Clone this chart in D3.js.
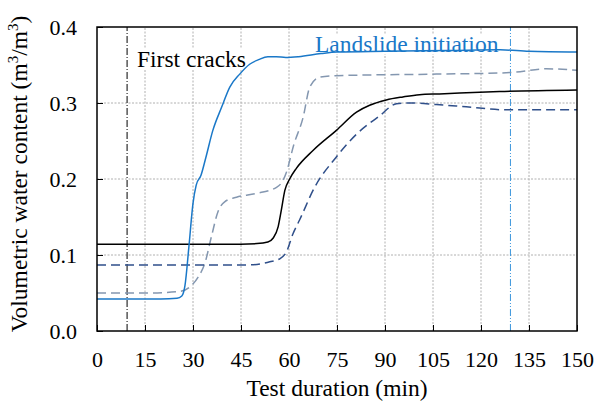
<!DOCTYPE html>
<html>
<head>
<meta charset="utf-8">
<script src="https://cdn.jsdelivr.net/npm/d3@7"></script>
<style>
  body { margin: 0; background: #fff; }
  text { font-family: "Liberation Serif", "Times New Roman", serif; }
</style>
</head>
<body>
<div id="chart"></div>
<script>
// readings taken off the figure: [minutes, m3/m3]
var blueSolid = [[0,0.042],[10,0.042],[20,0.042],[25,0.043],[26.5,0.046],[27.5,0.06],[28.7,0.11],[30,0.168],[31,0.192],[32.5,0.205],[34,0.228],[36.2,0.264],[38.9,0.294],[41.5,0.321],[44.6,0.338],[47.7,0.351],[50.5,0.357],[53.4,0.361],[56,0.361],[59,0.360],[63,0.361],[70,0.365],[75,0.367],[90,0.368],[110,0.369],[126,0.370],[135,0.368],[150,0.367]];
var blackSolid = [[0,0.114],[20,0.114],[40,0.114],[50,0.115],[53.4,0.117],[55,0.122],[56.6,0.137],[57.6,0.159],[58.7,0.185],[60.2,0.2],[62.3,0.214],[67.5,0.2375],[74.8,0.264],[81.1,0.288],[85.2,0.297],[90.4,0.304],[95.6,0.308],[100.8,0.311],[107,0.312],[125.8,0.315],[150,0.317]];
var grayDashed = [[0,0.050],[15,0.050],[25.8,0.052],[29,0.058],[31.6,0.071],[33.7,0.089],[35.75,0.124],[37.8,0.157],[39.9,0.170],[43.6,0.176],[49.8,0.181],[56.1,0.189],[58.1,0.198],[59.2,0.209],[61.5,0.245],[64.4,0.281],[66.5,0.321],[69.6,0.334],[74.8,0.336],[106,0.338],[129,0.340],[140.4,0.345],[150,0.343]];
var navyDashed = [[0,0.087],[40,0.087],[47.7,0.087],[54,0.091],[57.1,0.095],[59.2,0.104],[61.25,0.128],[63.3,0.146],[68,0.189],[74.8,0.229],[81.1,0.259],[88.3,0.283],[93.6,0.299],[97.7,0.300],[106,0.298],[115.4,0.295],[128,0.291],[150,0.291]];

var xTicks = [0,15,30,45,60,75,90,105,120,135,150];
var yTicks = [0,0.1,0.2,0.3,0.4];
var markers = [
  {t: 9.4, label: 'First cracks'},
  {t: 129.2, label: 'Landslide initiation'}
];

var width = 598, height = 406;
var margin = {top: 27, right: 21, bottom: 75, left: 97};
var labelSize = 23.5, tickSize = 22;

var svg = d3.select('#chart').append('svg')
  .attr('width', width)
  .attr('height', height);

var x = d3.scaleLinear().domain([0, 150]).range([margin.left, width - margin.right]);
var y = d3.scaleLinear().domain([0, 0.4]).range([height - margin.bottom, margin.top]);

// grid
svg.append('g').selectAll('line').data(xTicks.slice(1, -1)).enter().append('line')
  .attr('x1', function(d){ return x(d); }).attr('x2', function(d){ return x(d); })
  .attr('y1', y(0)).attr('y2', y(0.4))
  .attr('stroke', '#b0b0b0').attr('stroke-width', 1).attr('stroke-dasharray', '2,1.5');
svg.append('g').selectAll('line').data(yTicks.slice(1, -1)).enter().append('line')
  .attr('y1', function(d){ return y(d); }).attr('y2', function(d){ return y(d); })
  .attr('x1', x(0)).attr('x2', x(150))
  .attr('stroke', '#b0b0b0').attr('stroke-width', 1).attr('stroke-dasharray', '2,1.5');

// event markers
svg.append('line')
  .attr('x1', x(markers[0].t)).attr('x2', x(markers[0].t))
  .attr('y1', y(0)).attr('y2', y(0.4))
  .attr('stroke', '#000').attr('stroke-width', 1).attr('stroke-dasharray', '7,2,1,2');
svg.append('line')
  .attr('x1', x(markers[1].t)).attr('x2', x(markers[1].t))
  .attr('y1', y(0)).attr('y2', y(0.4))
  .attr('stroke', '#3c96dc').attr('stroke-width', 1).attr('stroke-dasharray', '7,2,1,2,1,2');

// annotation labels (white backing hides the grid behind them)
var ann1 = svg.append('text').attr('x', 137).attr('y', 67).attr('font-size', labelSize).attr('fill', '#000')
  .text(markers[0].label);
var ann2 = svg.append('text').attr('x', 315).attr('y', 52).attr('font-size', labelSize).attr('fill', '#1a78c8')
  .text(markers[1].label);
[ann1, ann2].forEach(function(t){
  var b = t.node().getBBox();
  svg.insert('rect', 'text')
    .attr('x', b.x - 1).attr('y', b.y + 3).attr('width', b.width + 2).attr('height', b.height - 6)
    .attr('fill', '#fff');
});

var line = d3.line()
  .x(function(d){ return x(d[0]); })
  .y(function(d){ return y(d[1]); })
  .curve(d3.curveMonotoneX);

var series = [
  {data: grayDashed, color: '#8497b0', dash: '9,5'},
  {data: navyDashed, color: '#2f4f8a', dash: '9,5'},
  {data: blackSolid, color: '#000000', dash: null},
  {data: blueSolid, color: '#1a78c8', dash: null}
];
series.forEach(function(s){
  svg.append('path')
    .datum(s.data)
    .attr('d', line)
    .attr('fill', 'none')
    .attr('stroke', s.color)
    .attr('stroke-width', 1.5)
    .attr('stroke-dasharray', s.dash);
});

// axes, ticks inward
var xAxis = svg.append('g')
  .attr('transform', 'translate(0,' + y(0) + ')')
  .call(d3.axisBottom(x).tickValues(xTicks).tickSizeInner(-6).tickSizeOuter(0).tickPadding(20));
var yAxis = svg.append('g')
  .attr('transform', 'translate(' + x(0) + ',0)')
  .call(d3.axisLeft(y).tickValues(yTicks).tickFormat(d3.format('.1f')).tickSizeInner(-6).tickSizeOuter(0).tickPadding(20));
[xAxis, yAxis].forEach(function(a){
  a.select('.domain').remove();
  a.selectAll('text').attr('font-size', tickSize).attr('fill', '#000')
    .style('font-family', '"Liberation Serif", "Times New Roman", serif');
  a.selectAll('line').attr('stroke', '#000');
});

// frame
svg.append('rect')
  .attr('x', x(0)).attr('y', y(0.4))
  .attr('width', x(150) - x(0)).attr('height', y(0) - y(0.4))
  .attr('fill', 'none').attr('stroke', '#000').attr('stroke-width', 1.5);

// axis titles
svg.append('text')
  .attr('x', (x(0) + x(150)) / 2).attr('y', 396)
  .attr('text-anchor', 'middle').attr('font-size', labelSize)
  .text('Test duration (min)');
var yt = svg.append('text')
  .attr('transform', 'translate(27,174) rotate(-90)')
  .attr('text-anchor', 'middle').attr('font-size', labelSize);
yt.append('tspan').text('Volumetric water content (m');
yt.append('tspan').attr('font-size', 15).attr('dy', -9).text('3');
yt.append('tspan').attr('dy', 9).text('/m');
yt.append('tspan').attr('font-size', 15).attr('dy', -9).text('3');
yt.append('tspan').attr('dy', 9).text(')');
</script>
</body>
</html>
